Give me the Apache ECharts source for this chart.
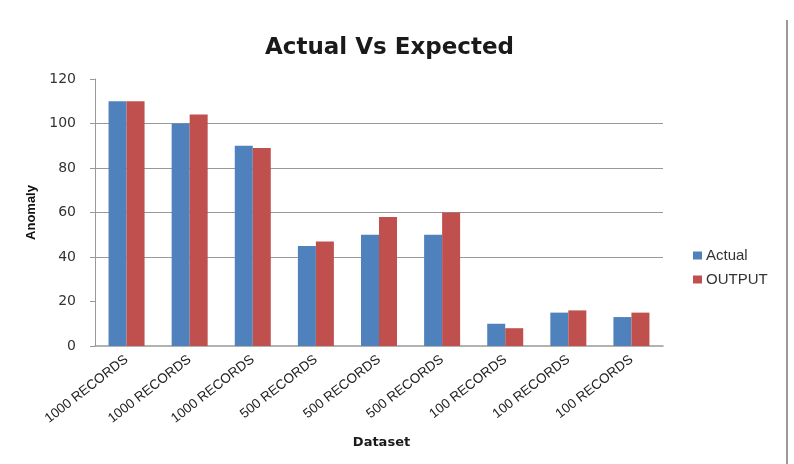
<!DOCTYPE html>
<html>
<head>
<meta charset="utf-8">
<script src="https://cdn.jsdelivr.net/npm/echarts@6/dist/echarts.min.js"></script>
<style>
  html, body { margin: 0; padding: 0; background: #fff; }
  #chart { width: 794px; height: 464px; }
</style>
</head>
<body>
<div id="chart"></div>
<script>
// Actual vs expected anomalies per dataset size
const categories = [
  '1000 RECORDS', '1000 RECORDS', '1000 RECORDS',
  '500 RECORDS', '500 RECORDS', '500 RECORDS',
  '100 RECORDS', '100 RECORDS', '100 RECORDS'
];
const actual = [110, 100, 90, 45, 50, 50, 10, 15, 13];
const output = [110, 104, 89, 47, 58, 60, 8, 16, 15];
const seriesNames = ['Actual', 'OUTPUT'];

const chart = echarts.init(document.getElementById('chart'), null, { renderer: 'canvas' });

chart.setOption({
  backgroundColor: '#fff',
  animation: false,
  title: {
    text: 'Actual Vs Expected',
    left: 260,
    top: 32,
    textStyle: { fontFamily: 'DejaVu Sans', fontWeight: 'bold', fontSize: 23, color: '#1a1a1a' }
  },
  legend: {
    data: seriesNames,
    orient: 'vertical',
    left: 688,
    top: 243,
    itemWidth: 9,
    itemHeight: 8,
    itemGap: 9,
    icon: 'rect',
    textStyle: { fontFamily: 'Liberation Sans', fontSize: 15, color: '#333', padding: [0, 0, 0, -1] }
  },
  grid: { left: 95, right: 131, top: 79, bottom: 118, outerBoundsMode: 'none', containLabel: false },
  xAxis: {
    type: 'category',
    data: categories,
    name: 'Dataset',
    nameLocation: 'middle',
    nameGap: 90,
    nameTextStyle: { fontFamily: 'DejaVu Sans', fontWeight: 'bold', fontSize: 13, color: '#1a1a1a', padding: [0, 0, 0, 5] },
    axisLine: { lineStyle: { color: '#999', width: 1.5 } },
    axisTick: { show: false },
    axisLabel: {
      rotate: 38,
      interval: 0,
      margin: 12,
      fontFamily: 'Liberation Sans',
      fontSize: 13.5,
      color: '#222'
    }
  },
  yAxis: {
    type: 'value',
    min: 0,
    max: 120,
    interval: 20,
    name: 'Anomaly',
    nameLocation: 'middle',
    nameGap: 48,
    nameRotate: 90,
    nameTextStyle: { fontFamily: 'Liberation Sans', fontWeight: 'bold', fontSize: 13, color: '#111' },
    axisLine: { show: true, lineStyle: { color: '#999', width: 1 } },
    axisTick: { show: true, length: 5, lineStyle: { color: '#999' } },
    axisLabel: { fontFamily: 'DejaVu Sans', fontSize: 14, color: '#333', margin: 19 },
    splitLine: {
      show: true,
      lineStyle: { color: ['rgba(0,0,0,0)', 'rgba(0,0,0,0)', '#999', '#999', '#999', '#999', 'rgba(0,0,0,0)'], width: 1 }
    }
  },
  series: [
    {
      name: seriesNames[0],
      type: 'bar',
      data: actual,
      barWidth: 18,
      barGap: '0%',
      itemStyle: { color: '#4F81BD' }
    },
    {
      name: seriesNames[1],
      type: 'bar',
      data: output,
      barWidth: 18,
      barGap: '0%',
      itemStyle: { color: '#C0504D' }
    }
  ],
  graphic: [
    {
      type: 'line',
      shape: { x1: 787, y1: 20, x2: 787, y2: 464 },
      style: { stroke: '#999', lineWidth: 2 }
    }
  ]
});
</script>
</body>
</html>
